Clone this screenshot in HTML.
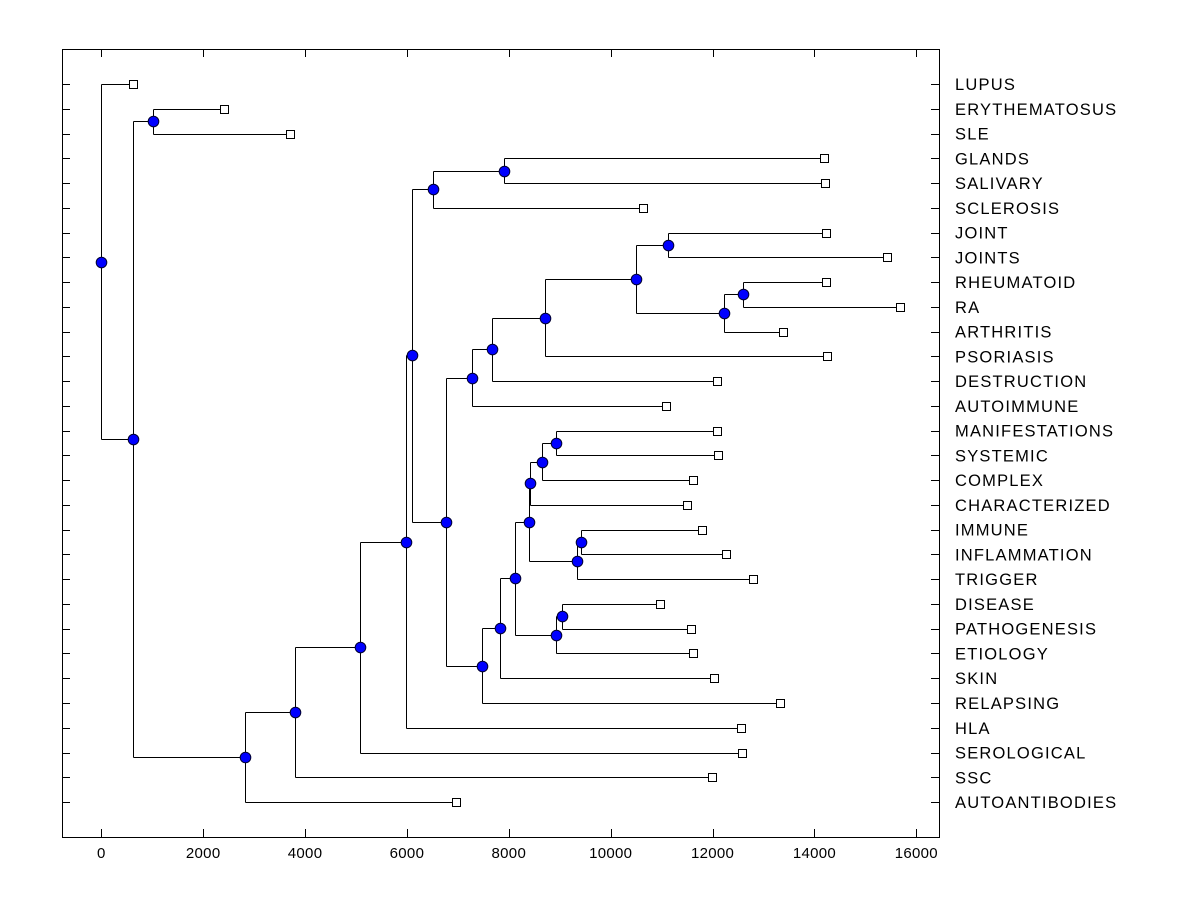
<!DOCTYPE html>
<html><head><meta charset="utf-8"><style>
html,body{margin:0;padding:0;background:#fff;}
svg{display:block;font-family:"Liberation Sans",Arial,sans-serif;}
</style></head><body>
<svg id="chart" width="1200" height="900" xmlns="http://www.w3.org/2000/svg">
<rect x="62.5" y="49.5" width="877" height="788" fill="none" stroke="#000" stroke-width="1"/>
<g id="axes"></g>
<g id="tree"></g>
<g id="marks"></g>
</svg>
<script>
const leafNames = ["LUPUS","ERYTHEMATOSUS","SLE","GLANDS","SALIVARY","SCLEROSIS","JOINT","JOINTS","RHEUMATOID","RA","ARTHRITIS","PSORIASIS","DESTRUCTION","AUTOIMMUNE","MANIFESTATIONS","SYSTEMIC","COMPLEX","CHARACTERIZED","IMMUNE","INFLAMMATION","TRIGGER","DISEASE","PATHOGENESIS","ETIOLOGY","SKIN","RELAPSING","HLA","SEROLOGICAL","SSC","AUTOANTIBODIES"];
const leafValues = [623,2417,3695,14191,14210,10629,14230,15430,14230,15680,13380,14250,12080,11080,12080,12100,11610,11490,11790,12260,12790,10960,11570,11610,12020,13320,12550,12570,11980,6970];
const nodeIds = ["root","nA","nB","nC","nD","nE","nF","nG","nH","nJ","nI","nK","nM","nN","nO","nP","nQ","nR","nL","nS","nT","nU","nW","nY","nZ","nX","nAA","nV","nAB"];
const nodeValues = [0,623,1016,2825,3810,5070,5990,6090,6505,7900,6760,7270,7660,8720,10490,11120,12220,12590,7470,7820,8120,8390,8410,8650,8920,9330,9410,8920,9040];
const nodeChildren = [
 ["LUPUS","nA"],["nB","nC"],["ERYTHEMATOSUS","SLE"],["nD","AUTOANTIBODIES"],["nE","SSC"],["nF","SEROLOGICAL"],["nG","HLA"],["nH","nI"],["nJ","SCLEROSIS"],["GLANDS","SALIVARY"],["nK","nL"],["nM","AUTOIMMUNE"],["nN","DESTRUCTION"],["nO","PSORIASIS"],["nP","nQ"],["JOINT","JOINTS"],["nR","ARTHRITIS"],["RHEUMATOID","RA"],["nS","RELAPSING"],["nT","SKIN"],["nU","nV"],["nW","nX"],["nY","CHARACTERIZED"],["nZ","COMPLEX"],["MANIFESTATIONS","SYSTEMIC"],["nAA","TRIGGER"],["IMMUNE","INFLAMMATION"],["nAB","ETIOLOGY"],["DISEASE","PATHOGENESIS"]
];
const xTicks = [0,2000,4000,6000,8000,10000,12000,14000,16000];

const NS="http://www.w3.org/2000/svg";
const xs = v => 101.3 + v*0.05094;
const ys = i => 84 + i*24.76;
function mk(tag, attrs, parent){const e=document.createElementNS(NS,tag);for(const k in attrs)e.setAttribute(k,attrs[k]);parent.appendChild(e);return e;}
const axes=document.getElementById('axes'), tree=document.getElementById('tree'), marks=document.getElementById('marks');

xTicks.forEach(t=>{
  const x=Math.round(xs(t))+0.5;
  const a=mk('line',{x1:x,x2:x,y1:829,y2:837,stroke:'#000'},axes);
  
  
  const b=mk('line',{x1:x,x2:x,y1:49,y2:57,stroke:'#000'},axes);
  
  
  const l=mk('text',{x:xs(t),y:858,'text-anchor':'middle','font-size':'15','letter-spacing':'0.3'},axes);
  l.textContent=t;
  
  
});
leafNames.forEach((n,i)=>{
  const y=Math.round(ys(i))+0.5;
  const a=mk('line',{x1:62,x2:70,y1:y,y2:y,stroke:'#000'},axes);
  
  
  const b=mk('line',{x1:931,x2:939,y1:y,y2:y,stroke:'#000'},axes);
  
  
  const l=mk('text',{x:955,y:ys(i)+6,'font-size':'16.5','letter-spacing':'1.2'},axes);
  l.textContent=n;
  
  
});

const pos={};
leafNames.forEach((n,i)=>{pos[n]={x:xs(leafValues[i]),y:ys(i),leaf:true};});
function resolve(id){
  if(pos[id])return pos[id];
  const k=nodeIds.indexOf(id);
  const c=nodeChildren[k].map(resolve);
  pos[id]={x:xs(nodeValues[k]),y:(c[0].y+c[1].y)/2,leaf:false};
  return pos[id];
}
nodeIds.forEach(resolve);
nodeIds.forEach((id,k)=>{
  const p=pos[id];
  const c=nodeChildren[k].map(n=>pos[n]);
  const px=Math.round(p.x)+0.5;
  const v=mk('line',{x1:px,x2:px,y1:Math.round(c[0].y)+0.5,y2:Math.round(c[1].y)+0.5,stroke:'#000'},tree);
  
  
  c.forEach(ch=>{
    const yy=Math.round(ch.y)+0.5;
    const h=mk('line',{x1:px,x2:Math.round(ch.x)+0.5,y1:yy,y2:yy,stroke:'#000'},tree);
    
    
  });
});
leafNames.forEach(n=>{
  const p=pos[n];
  const r=mk('rect',{x:Math.round(p.x)-4+0.5,y:Math.round(p.y)-4+0.5,width:8,height:8,fill:'#fff',stroke:'#000'},marks);
  
  
});
nodeIds.forEach(id=>{
  const p=pos[id];
  const c=mk('circle',{cx:Math.round(p.x)+0.5,cy:Math.round(p.y)+0.5,r:5.3,fill:'#0000ff',stroke:'#000033','stroke-width':'1'},marks);
  
  
});
</script>
</body></html>
